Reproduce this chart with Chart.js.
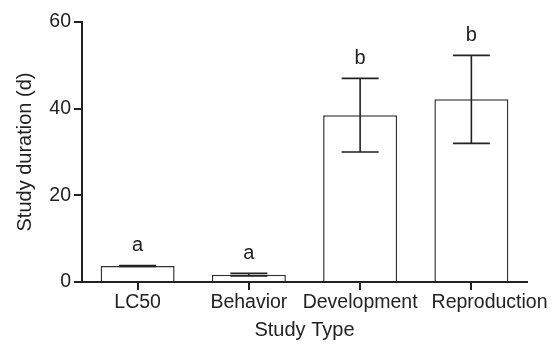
<!DOCTYPE html>
<html>
<head>
<meta charset="utf-8">
<script src="https://cdn.jsdelivr.net/npm/chart.js@4"></script>
<style>
html,body{margin:0;padding:0;background:#fff;}
#wrap{width:553px;height:346px;position:relative;}
</style>
</head>
<body>
<div id="wrap"><canvas id="c" width="553" height="346"></canvas></div>
<script>
const categories = ["LC50", "Behavior", "Development", "Reproduction"];
const means = [3.7, 1.7, 38.5, 42.2];
const errLow = [3.6, 1.4, 30.0, 32.0];
const errHigh = [3.8, 2.0, 47.0, 52.3];
const groupLetters = ["a", "a", "b", "b"];
const yTicks = [0, 20, 40, 60];

const ink = '#222';
const FONT = '"Liberation Sans", Arial, sans-serif';

const errorBarPlugin = {
  id: 'errorBars',
  afterDatasetsDraw(chart) {
    const ctx = chart.ctx;
    const meta = chart.getDatasetMeta(0);
    const ys = chart.scales.y;
    ctx.save();
    meta.data.forEach((bar, i) => {
      const x = bar.x;
      const half = bar.width / 4;
      const yh = ys.getPixelForValue(errHigh[i]);
      const yl = ys.getPixelForValue(errLow[i]);
      ctx.strokeStyle = ink;
      ctx.lineWidth = 1.6;
      ctx.beginPath();
      ctx.moveTo(x, yh); ctx.lineTo(x, yl);
      ctx.moveTo(x - half, yh); ctx.lineTo(x + half, yh);
      ctx.moveTo(x - half, yl); ctx.lineTo(x + half, yl);
      ctx.stroke();
      const top = Math.min(yh, ys.getPixelForValue(means[i]));
      ctx.fillStyle = ink;
      ctx.font = '20px ' + FONT;
      ctx.textAlign = 'center';
      ctx.textBaseline = 'middle';
      ctx.fillText(groupLetters[i], x, top - 20);
    });
    ctx.restore();
  }
};

// x category labels, nudged apart when they would overlap
const xLabelPlugin = {
  id: 'xLabels',
  afterDraw(chart) {
    const ctx = chart.ctx;
    const xs = chart.scales.x;
    const y = chart.chartArea.bottom + 21;
    ctx.save();
    ctx.font = '19.5px ' + FONT;
    ctx.fillStyle = ink;
    ctx.textAlign = 'center';
    ctx.textBaseline = 'middle';
    let prevRight = -Infinity;
    categories.forEach((lab, i) => {
      const w = ctx.measureText(lab).width;
      let cx = xs.getPixelForTick(i);
      if (cx - w / 2 < prevRight + 14) cx = prevRight + 14 + w / 2;
      ctx.fillText(lab, cx, y);
      prevRight = cx + w / 2;
    });
    ctx.restore();
  }
};

new Chart(document.getElementById('c'), {
  type: 'bar',
  data: {
    labels: categories,
    datasets: [{
      data: means,
      backgroundColor: '#fff',
      borderColor: '#333',
      borderWidth: 1.5,
      categoryPercentage: 1.0,
      barPercentage: 0.665
    }]
  },
  options: {
    responsive: false,
    animation: false,
    events: [],
    layout: { padding: { left: 0, right: 26, top: 22, bottom: 0 } },
    plugins: { legend: { display: false }, tooltip: { enabled: false } },
    scales: {
      x: {
        grid: { display: true, drawOnChartArea: false, offset: false, tickLength: 8, tickColor: ink, lineWidth: 2 },
        border: { display: true, color: ink, width: 2 },
        ticks: { display: false },
        title: { display: true, text: 'Study Type', color: ink, font: { family: FONT, size: 20 }, padding: { top: 4, bottom: 4 } },
        afterFit(s) { s.height = 64; }
      },
      y: {
        min: 0, max: 60,
        afterBuildTicks(s) { s.ticks = yTicks.map(v => ({ value: v })); },
        grid: { display: true, drawOnChartArea: false, tickLength: 8, tickColor: ink, lineWidth: 2 },
        border: { display: true, color: ink, width: 2 },
        ticks: { color: ink, font: { family: FONT, size: 19.5 }, padding: 3 },
        title: { display: true, text: 'Study duration (d)', color: ink, font: { family: FONT, size: 20 }, padding: { top: 13, bottom: 2 } },
        afterFit(s) { s.width = 82; }
      }
    }
  },
  plugins: [errorBarPlugin, xLabelPlugin]
});
</script>
</body>
</html>
